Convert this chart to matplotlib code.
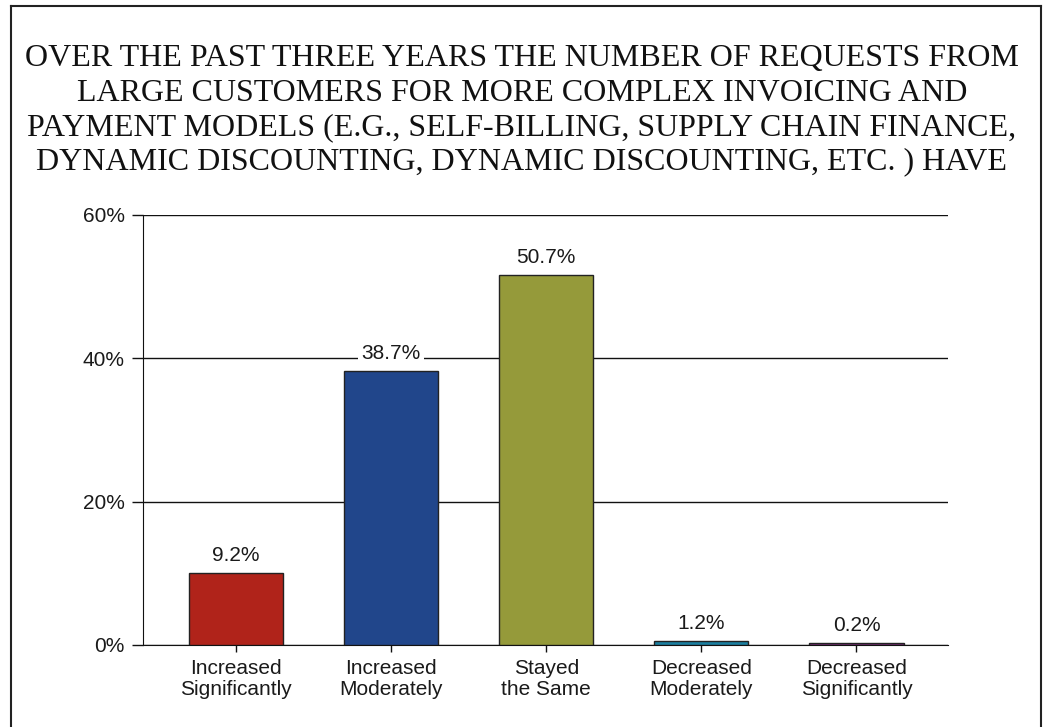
import matplotlib.pyplot as plt
from matplotlib.lines import Line2D

categories = ["Increased\nSignificantly", "Increased\nModerately", "Stayed\nthe Same",
              "Decreased\nModerately", "Decreased\nSignificantly"]
heights = [10.0, 38.2, 51.6, 0.55, 0.25]      # bar tops as drawn
labels = ["9.2%", "38.7%", "50.7%", "1.2%", "0.2%"]   # printed values
colors = ["#B0231A", "#21468B", "#959A3A", "#1A7FA0", "#7B2A7A"]
yticks = [0, 20, 40, 60]

title = ("OVER THE PAST THREE YEARS THE NUMBER OF REQUESTS FROM\n"
         "LARGE CUSTOMERS FOR MORE COMPLEX INVOICING AND\n"
         "PAYMENT MODELS (E.G., SELF-BILLING, SUPPLY CHAIN FINANCE,\n"
         "DYNAMIC DISCOUNTING, DYNAMIC DISCOUNTING, ETC. ) HAVE")

sans = ["Liberation Sans Narrow", "Liberation Sans", "DejaVu Sans"]

fig = plt.figure(figsize=(10.44, 7.27), dpi=100)
ax = fig.add_axes([0.137, 0.1128, 0.771, 0.5915])

x = range(len(categories))
ax.bar(x, heights, width=0.607, color=colors, edgecolor="#222222", linewidth=1, zorder=3)

for i, (h, lab) in enumerate(zip(heights, labels)):
    ax.annotate(lab, (i, h), xytext=(0, 6), textcoords="offset points",
                ha="center", va="bottom", fontsize=15, family=sans, color="#1a1a1a",
                bbox=dict(boxstyle="square,pad=0.15", fc="white", ec="none"), zorder=4)

ax.set_xlim(-0.6, 4.59)
ax.set_ylim(0, 60)
ax.set_yticks(yticks)
ax.set_yticklabels([f"{t}%" for t in yticks])
ax.set_xticks(list(x))
ax.set_xticklabels(categories)
for t in ax.get_xticklabels() + ax.get_yticklabels():
    t.set_family(sans)
    t.set_fontsize(15)
    t.set_color("#1a1a1a")
ax.tick_params(axis="y", length=8, width=1, pad=5, color="#111111")
ax.tick_params(axis="x", length=5, width=1, pad=5, color="#111111")
for t in ax.get_xticklabels():
    t.set_linespacing(1.15)

ax.grid(axis="y", color="#111111", linewidth=1)
ax.set_axisbelow(True)
for s in ["top", "right"]:
    ax.spines[s].set_visible(False)
ax.spines["left"].set_color("#111111")
ax.spines["bottom"].set_color("#111111")

fig.text(0.5, 0.939, title, ha="center", va="top", fontsize=23,
         family=["Liberation Serif", "DejaVu Serif"], linespacing=1.24, color="#111111")

# outer frame (no bottom edge visible)
W, H = 1044, 727
fl, ft, fr = 11 / W, 1 - 6 / H, 1041 / W
for xs, ys in [([fl, fl], [0, ft]), ([fl, fr], [ft, ft]), ([fr, fr], [ft, 0])]:
    fig.add_artist(Line2D(xs, ys, transform=fig.transFigure, color="#222222", linewidth=1.5))

fig.savefig("out.png", dpi=100)
